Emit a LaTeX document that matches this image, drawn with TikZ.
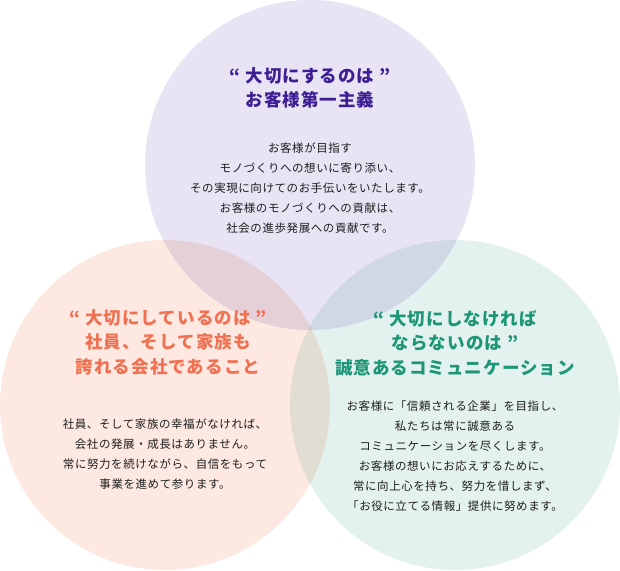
\documentclass[tikz,border=0pt]{standalone}
\usepackage{fontspec}
\usepackage{xcolor}
\usepackage{tikz}
\newfontfamily\jpfont{Noto Sans CJK JP}
\definecolor{lavfill}{RGB}{232,228,244}
\definecolor{peachfill}{RGB}{253,233,226}
\definecolor{mintfill}{RGB}{228,242,239}
\definecolor{purpink}{RGB}{62,30,148}
\definecolor{coralink}{RGB}{240,112,82}
\definecolor{tealink}{RGB}{28,150,118}
\definecolor{bodyink}{RGB}{30,30,30}

\begin{document}
\begin{tikzpicture}[x=1pt,y=-1pt,
	ttl/.style={align=center,font=\jpfont\bfseries\fontsize{17.5}{24.5}\selectfont\addfontfeatures{LetterSpace=6}},
	bodytxt/.style={align=center,text=bodyink,font=\jpfont\fontsize{11.5}{20}\selectfont\addfontfeatures{LetterSpace=5}}]
				\useasboundingbox (0,0) rectangle (620,570);
				% circles
				\begin{scope}[blend mode=multiply]
					\foreach \cx/\cy/\col in {310/165/lavfill,165/405/peachfill,455/405/mintfill}{
						\fill[\col] (\cx,\cy) circle (165pt);
					}
				\end{scope}
				% top circle
				\node[ttl,text=purpink] (toptitle) at (310,88) {“ 大切にするのは ”\\お客様第一主義};
				\node[bodytxt] (topbody) at (310,188) {お客様が目指す\\モノづくりへの想いに寄り添い、\\その実現に向けてのお手伝いをいたします。\\お客様のモノづくりへの貢献は、\\社会の進歩発展への貢献です。};
				% left circle
				\node[ttl,text=coralink] (lefttitle) at (168,342) {“ 大切にしているのは ”\\社員、そして家族も\\誇れる会社であること};
				\node[bodytxt] (leftbody) at (165,454) {社員、そして家族の幸福がなければ、\\会社の発展・成長はありません。\\常に努力を続けながら、自信をもって\\事業を進めて参ります。};
				% right circle
				\node[ttl,text=tealink] (righttitle) at (455,343) {“ 大切にしなければ\\ならないのは ”\\誠意あるコミュニケーション};
				\node[bodytxt] (rightbody) at (455,456) {お客様に「信頼される企業」を目指し、\\私たちは常に誠意ある\\コミュニケーションを尽くします。\\お客様の想いにお応えするために、\\常に向上心を持ち、努力を惜しまず、\\「お役に立てる情報」提供に努めます。};
\end{tikzpicture}
\end{document}
